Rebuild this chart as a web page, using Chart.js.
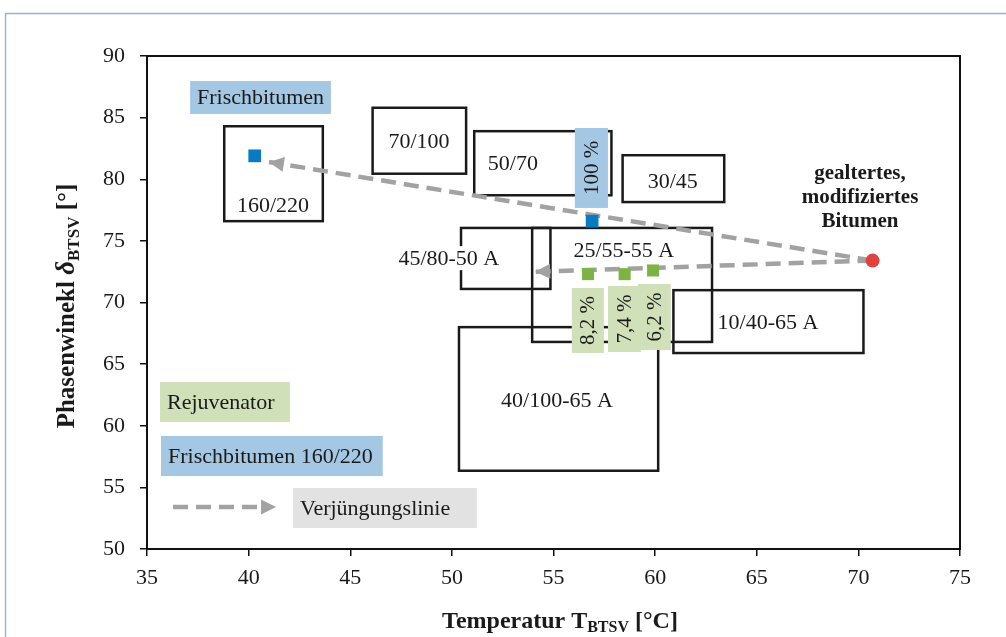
<!DOCTYPE html>
<html>
<head>
<meta charset="utf-8">
<script src="https://cdn.jsdelivr.net/npm/chart.js@4.4.1/dist/chart.umd.min.js"></script>
<style>
  html, body { margin:0; padding:0; background:#fff; }
  #wrap { width:1006px; height:637px; position:relative; }
</style>
</head>
<body>
<div id="wrap"><canvas id="c" width="1006" height="637"></canvas></div>
<script>
// Messwerte
const freshX = [40.3, 56.9];
const freshY = [81.9, 76.6];
const rejX = [56.7, 58.5, 59.9];
const rejY = [72.3, 72.3, 72.6];
const agedX = [70.7];
const agedY = [73.4];
// Verjuengungslinien (Start = gealtertes Bitumen)
const arrowTipX = [41.0, 54.1];
const arrowTipY = [81.4, 72.5];

// Sortenbereiche
const boxNames = ['160/220', '70/100', '50/70', '30/45', '45/80-50 A', '25/55-55 A', '10/40-65 A', '40/100-65 A'];
const boxX0 = [38.8, 46.1, 51.1, 58.4, 50.45, 53.95, 60.9, 50.35];
const boxX1 = [43.65, 50.7, 57.85, 63.4, 54.85, 62.8, 70.25, 60.15];
const boxY0 = [76.6, 80.45, 78.7, 78.15, 71.1, 66.8, 65.9, 56.35];
const boxY1 = [84.3, 85.8, 83.9, 81.95, 76.05, 76.05, 71.0, 68.0];
const boxLabelX = [41.2, 48.38, 53.0, 60.87, 49.85, 58.46, 65.55, 55.17];
const boxLabelY = [77.9, 83.1, 81.3, 79.8, 73.6, 74.26, 68.42, 62.1];

const xTicks = [35, 40, 45, 50, 55, 60, 65, 70, 75];
const yTicks = [50, 55, 60, 65, 70, 75, 80, 85, 90];

// farbige Beschriftungen
const tags = [
  { text:'Frischbitumen', x0:37.12, x1:44.05, y0:85.3, y1:87.97, bg:'#a4c8e4', align:'center' },
  { text:'100 %', x0:56.05, x1:57.68, y0:77.67, y1:84.16, bg:'#a4c8e4', rot:true },
  { text:'8,2 %', x0:55.9, x1:57.48, y0:65.9, y1:71.18, bg:'#d0e0b8', rot:true },
  { text:'7,4 %', x0:57.68, x1:59.3, y0:65.98, y1:71.34, bg:'#d0e0b8', rot:true },
  { text:'6,2 %', x0:59.15, x1:60.77, y0:66.15, y1:71.5, bg:'#d0e0b8', rot:true },
  { text:'Rejuvenator', x0:35.64, x1:42.03, y0:60.3, y1:63.55, bg:'#d0e0b8', align:'left' },
  { text:'Frischbitumen 160/220', x0:35.69, x1:46.6, y0:55.92, y1:59.17, bg:'#a4c8e4', align:'left' },
  { text:'Verjüngungslinie', x0:42.18, x1:51.23, y0:51.7, y1:54.95, bg:'#e2e2e2', align:'left' }
];

const dashCol = '#a2a2a2';
const serif = '"Liberation Serif", "Times New Roman", serif';

function arrowHead(ctx, x0, y0, x1, y1) {
  const a = Math.atan2(y1 - y0, x1 - x0);
  const L = 15, W = 7.5;
  ctx.save();
  ctx.fillStyle = dashCol;
  ctx.translate(x1, y1);
  ctx.rotate(a);
  ctx.beginPath();
  ctx.moveTo(0, 0);
  ctx.lineTo(-L, -W);
  ctx.lineTo(-L, W);
  ctx.closePath();
  ctx.fill();
  ctx.restore();
}

const deko = {
  id: 'deko',
  beforeDraw(chart) {
    const ctx = chart.ctx;
    ctx.save();
    ctx.fillStyle = '#fff';
    ctx.fillRect(0, 0, chart.width, chart.height);
    ctx.strokeStyle = '#9db3cc';
    ctx.lineWidth = 1.5;
    ctx.strokeRect(5.5, 13.5, 1200, 800);
    ctx.restore();
  },
  beforeDatasetsDraw(chart) {
    const ctx = chart.ctx, xs = chart.scales.x, ys = chart.scales.y;
    const a = chart.chartArea;
    ctx.save();
    ctx.strokeStyle = '#111';
    ctx.lineWidth = 2;
    ctx.strokeRect(a.left, a.top, a.right - a.left, a.bottom - a.top);

    // Sortenbereiche
    ctx.lineWidth = 2.5;
    ctx.strokeStyle = '#1a1a1a';
    for (let i = 0; i < boxNames.length; i++) {
      const l = xs.getPixelForValue(boxX0[i]), r = xs.getPixelForValue(boxX1[i]);
      const t = ys.getPixelForValue(boxY1[i]), b = ys.getPixelForValue(boxY0[i]);
      ctx.strokeRect(l, t, r - l, b - t);
    }
    ctx.font = '22px ' + serif;
    ctx.textAlign = 'center';
    ctx.textBaseline = 'middle';
    for (let i = 0; i < boxNames.length; i++) {
      const px = xs.getPixelForValue(boxLabelX[i]), py = ys.getPixelForValue(boxLabelY[i]);
      if (boxNames[i] == '45/80-50 A') {
        const w = ctx.measureText(boxNames[i]).width;
        ctx.fillStyle = '#fff';
        ctx.fillRect(px - w / 2 - 2, py - 12, w + 4, 24);
      }
      ctx.fillStyle = '#1a1a1a';
      ctx.fillText(boxNames[i], px, py + 1);
    }

    // Legendenpfeil
    const lx0 = xs.getPixelForValue(36.28), lx1 = xs.getPixelForValue(41.35), ly = ys.getPixelForValue(53.4);
    ctx.strokeStyle = dashCol;
    ctx.lineWidth = 4.5;
    ctx.setLineDash([15, 8]);
    ctx.beginPath();
    ctx.moveTo(lx0, ly);
    ctx.lineTo(lx1 - 12, ly);
    ctx.stroke();
    ctx.setLineDash([]);
    arrowHead(ctx, lx0, ly, lx1, ly);
    ctx.restore();
  },
  afterDatasetsDraw(chart) {
    const ctx = chart.ctx, xs = chart.scales.x, ys = chart.scales.y;
    ctx.save();
    // farbige Beschriftungen (liegen ueber den Linien)
    tags.forEach(tg => {
      const l = xs.getPixelForValue(tg.x0), r = xs.getPixelForValue(tg.x1);
      const t = ys.getPixelForValue(tg.y1), b = ys.getPixelForValue(tg.y0);
      ctx.fillStyle = tg.bg;
      ctx.fillRect(l, t, r - l, b - t);
      ctx.fillStyle = '#1a1a1a';
      ctx.textBaseline = 'middle';
      if (tg.rot) {
        ctx.save();
        ctx.translate((l + r) / 2 + 1, (t + b) / 2);
        ctx.rotate(-Math.PI / 2);
        ctx.font = '21px ' + serif;
        ctx.textAlign = 'center';
        ctx.fillText(tg.text, 0, 0);
        ctx.restore();
      } else {
        ctx.font = '22px ' + serif;
        if (tg.align == 'left') {
          ctx.textAlign = 'left';
          ctx.fillText(tg.text, l + 7, (t + b) / 2 + 1);
        } else {
          ctx.textAlign = 'center';
          ctx.fillText(tg.text, (l + r) / 2, (t + b) / 2 + 1);
        }
      }
    });

    for (let i = 0; i < arrowTipX.length; i++) {
      arrowHead(ctx, xs.getPixelForValue(agedX[0]), ys.getPixelForValue(agedY[0]),
        xs.getPixelForValue(arrowTipX[i]), ys.getPixelForValue(arrowTipY[i]));
    }
    // Beschriftung gealtertes Bitumen
    ctx.font = 'bold 21px ' + serif;
    ctx.fillStyle = '#1a1a1a';
    ctx.textAlign = 'center';
    ctx.textBaseline = 'middle';
    const cx = 860;
    ['gealtertes,', 'modifiziertes', 'Bitumen'].forEach((s, k) => ctx.fillText(s, cx, 174 + k * 24));

    // Achsentitel
    ctx.textAlign = 'left';
    ctx.textBaseline = 'alphabetic';
    const p1 = 'Temperatur T', sub = 'BTSV', p2 = ' [°C]';
    ctx.font = 'bold 24px ' + serif;
    const w1 = ctx.measureText(p1).width, w3 = ctx.measureText(p2).width;
    ctx.font = 'bold 16px ' + serif;
    const w2 = ctx.measureText(sub).width;
    let x = 560 - (w1 + w2 + w3) / 2;
    const by = 628;
    ctx.font = 'bold 24px ' + serif;
    ctx.fillText(p1, x, by); x += w1;
    ctx.font = 'bold 16px ' + serif;
    ctx.fillText(sub, x, by + 4); x += w2;
    ctx.font = 'bold 24px ' + serif;
    ctx.fillText(p2, x, by);

    ctx.translate(74, 306);
    ctx.rotate(-Math.PI / 2);
    const q1 = 'Phasenwinekl ', q2 = 'δ', q4 = ' [°]';
    ctx.font = 'bold 25px ' + serif;
    const v1 = ctx.measureText(q1).width, v4 = ctx.measureText(q4).width;
    ctx.font = 'bold italic 27px ' + serif;
    const v2 = ctx.measureText(q2).width;
    ctx.font = 'bold 17px ' + serif;
    const v3 = ctx.measureText(sub).width;
    x = -(v1 + v2 + v3 + v4) / 2;
    ctx.font = 'bold 25px ' + serif;
    ctx.fillText(q1, x, 0); x += v1;
    ctx.font = 'bold italic 27px ' + serif;
    ctx.fillText(q2, x, 0); x += v2;
    ctx.font = 'bold 17px ' + serif;
    ctx.fillText(sub, x, 5); x += v3;
    ctx.font = 'bold 25px ' + serif;
    ctx.fillText(q4, x, 0);
    ctx.restore();
  }
};

const pts = (xa, ya) => xa.map((v, i) => ({ x: v, y: ya[i] }));
const arrowSets = arrowTipX.map((tx, i) => ({
  type: 'line',
  data: [{ x: agedX[0], y: agedY[0] }, { x: tx, y: arrowTipY[i] }],
  borderColor: dashCol,
  borderWidth: 4.5,
  borderDash: [15, 8],
  pointRadius: 0,
  fill: false,
  order: 5
}));

new Chart(document.getElementById('c'), {
  type: 'scatter',
  data: {
    datasets: [
      { label: 'Frischbitumen', data: pts(freshX, freshY), pointStyle: 'rect', pointRadius: 9,
        backgroundColor: '#0a7bc0', borderColor: '#0a7bc0', borderWidth: 0, order: 1 },
      { label: 'Rejuvenator', data: pts(rejX, rejY), pointStyle: 'rect', pointRadius: 8.5,
        backgroundColor: '#7cb342', borderColor: '#7cb342', borderWidth: 0, order: 1 },
      { label: 'gealtert', data: pts(agedX, agedY), pointStyle: 'circle', pointRadius: 7,
        backgroundColor: '#e0433c', borderColor: '#e0433c', borderWidth: 0, order: 1 },
      ...arrowSets
    ]
  },
  options: {
    responsive: false,
    animation: false,
    devicePixelRatio: 1,
    layout: { padding: { left: 0, top: 56, right: 46, bottom: 0 } },
    plugins: { legend: { display: false }, tooltip: { enabled: false } },
    scales: {
      x: {
        type: 'linear', min: 35, max: 75,
        afterBuildTicks: s => { s.ticks = xTicks.map(v => ({ value: v })); },
        afterFit: s => { s.height = 88; },
        grid: { drawOnChartArea: false, drawTicks: true, tickLength: 7, color: '#111', lineWidth: 1.5 },
        border: { color: '#111', width: 2 },
        ticks: { font: { family: serif, size: 22 }, color: '#1a1a1a', padding: 9, maxRotation: 0 }
      },
      y: {
        type: 'linear', min: 50, max: 90,
        afterBuildTicks: s => { s.ticks = yTicks.map(v => ({ value: v })); },
        afterFit: s => { s.width = 147; },
        grid: { drawOnChartArea: false, drawTicks: true, tickLength: 7, color: '#111', lineWidth: 1.5 },
        border: { color: '#111', width: 2 },
        ticks: { font: { family: serif, size: 22 }, color: '#1a1a1a', padding: 15 }
      }
    }
  },
  plugins: [deko]
});
</script>
</body>
</html>
